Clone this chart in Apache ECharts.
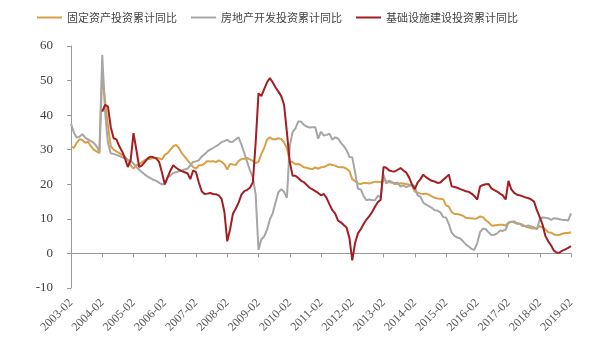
<!DOCTYPE html>
<html>
<head>
<meta charset="utf-8">
<script src="https://cdn.jsdelivr.net/npm/echarts@6/dist/echarts.min.js"></script>
<style>
  html, body { margin: 0; padding: 0; background: #ffffff; }
  #chart { width: 600px; height: 348px; }
</style>
</head>
<body>
<div id="chart"></div>
<script>
// Monthly cumulative YoY growth (%), Feb–Dec of each year (Jan folded into Feb)
const years = [2003, 2004, 2005, 2006, 2007, 2008, 2009, 2010, 2011, 2012, 2013, 2014, 2015, 2016, 2017, 2018, 2019];
const months = ['02', '03', '04', '05', '06', '07', '08', '09', '10', '11', '12'];
const lastMonth = '2019-02';

const seriesNames = ['固定资产投资累计同比', '房地产开发投资累计同比', '基础设施建设投资累计同比'];

// 固定资产投资累计同比
const fixedAsset = [
  31, 30.5, 32, 33, 32.8, 32, 32.3, 31, 30, 29.5, 29,          // 2003
  52, 44, 37, 31, 30, 29.5, 29, 28.5, 28, 27, 25.5,             // 2004
  24.5, 25.5, 25.8, 26.4, 27, 27.2, 27.4, 27.6, 27.6, 27.5, 27.2, // 2005
  28.5, 29, 30, 31, 31.4, 30.5, 29, 28, 27, 26, 25,             // 2006
  24.5, 25.5, 25.5, 26, 26.7, 26.6, 26.7, 26.4, 26.9, 26.5, 25.8, // 2007
  24.3, 25.9, 25.7, 25.6, 26.8, 27.3, 27.4, 27.6, 27.2, 26.8, 26.1, // 2008
  26.5, 28.8, 30.5, 32.9, 33.6, 33, 33, 33.3, 33.1, 32.1, 30.5, // 2009
  26.6, 26.4, 25.8, 25.9, 25.5, 24.9, 24.8, 24.5, 24.4, 24.9, 24.5, // 2010
  24.9, 25, 25.4, 25.8, 25.6, 25.4, 25, 24.9, 24.9, 24.5, 23.8, // 2011
  21.5, 20.9, 20.2, 20.1, 20.4, 20.4, 20.2, 20.5, 20.7, 20.7, 20.6, // 2012
  21.2, 20.9, 20.6, 20.4, 20.1, 20.1, 20.3, 20.2, 20.1, 19.9, 19.6, // 2013
  17.9, 17.6, 17.3, 17.2, 17.3, 17, 16.5, 16.1, 15.9, 15.8, 15.7, // 2014
  13.9, 13.5, 12, 11.4, 11.4, 11.2, 10.9, 10.3, 10.2, 10.2, 10, // 2015
  10.2, 10.7, 10.5, 9.6, 9, 8.1, 8.1, 8.2, 8.3, 8.3, 8.1,       // 2016
  8.9, 9.2, 8.9, 8.6, 8.6, 8.3, 7.8, 7.5, 7.3, 7.2, 7.2,        // 2017
  7.9, 7.5, 7, 6.1, 6, 5.5, 5.3, 5.4, 5.7, 5.9, 5.9,            // 2018
  6.1                                                            // 2019
];

// 房地产开发投资累计同比
const realEstate = [
  37.5, 35, 33.5, 33.8, 34.5, 33.5, 33, 32.5, 32, 31, 29.5,     // 2003
  57.4, 41, 32, 29, 28.8, 28.5, 28.2, 27.8, 27.5, 27, 26.8,     // 2004
  26, 25, 24.2, 23.5, 22.8, 22.2, 21.8, 21.3, 21, 20.5, 20,     // 2005
  20, 22, 22.5, 23.3, 23.5, 23.8, 24, 24.3, 24.5, 25.5, 26.5,   // 2006
  26.6, 27, 28, 28.7, 29.5, 30, 30.5, 31, 31.5, 32.2, 32.5,     // 2007
  32.9, 32.2, 32.3, 33, 33.6, 31.5, 29, 26.5, 24, 22, 17,       // 2008
  1, 4.1, 4.9, 6.8, 9.9, 11.6, 14.7, 17.7, 18.6, 17.8, 16.1,    // 2009
  31.1, 35.1, 36.2, 38.2, 38.1, 37.2, 36.7, 36.4, 36.5, 36.5, 33.2, // 2010
  35.2, 34.1, 34.3, 34.6, 32.9, 33.6, 33.2, 32, 31.1, 29.9, 27.9, // 2011
  27.8, 23.5, 18.7, 18.5, 16.6, 15.4, 15.6, 15.4, 15.4, 16.7, 16.2, // 2012
  22.8, 20.2, 21.1, 20.6, 20.3, 20.5, 19.3, 19.7, 19.2, 19.5, 19.8, // 2013
  19.3, 16.8, 16.4, 14.7, 14.1, 13.7, 13.2, 12.5, 12.4, 11.9, 10.5, // 2014
  10.4, 8.5, 6, 5.1, 4.6, 4.3, 3.5, 2.6, 2, 1.3, 1,             // 2015
  3, 6.2, 7.2, 7, 6.1, 5.3, 5.4, 5.8, 6.6, 6.5, 6.9,            // 2016
  8.9, 9.1, 9.3, 8.8, 8.5, 7.9, 7.9, 8.1, 7.8, 7.5, 7,          // 2017
  9.9, 10.4, 10.3, 10.2, 9.7, 10.2, 10.1, 9.9, 9.7, 9.7, 9.5,   // 2018
  11.6                                                           // 2019
];

// 基础设施建设投资累计同比 (series begins in 2004)
const infrastructure = [
  null, null, null, null, null, null, null, null, null, null, null, // 2003
  41, 43, 42.5, 36.5, 33.3, 33, 31, 29.5, 27.5, 25, 27,         // 2004
  34.8, 30, 25, 25.5, 26.5, 27.5, 28, 27.8, 27.5, 26.5, 23.5,   // 2005
  20, 22, 24, 25.5, 24.8, 24.2, 23.8, 23.5, 23.2, 21.5, 24,     // 2006
  23.5, 20.5, 18, 17.2, 17.3, 17.5, 17.2, 17.1, 16.8, 15.8, 12, // 2007
  3.5, 7, 11.5, 13, 14.7, 17, 18, 18.4, 19, 20.5, 32,           // 2008
  46.3, 45.5, 47.5, 49.5, 50.7, 49.5, 48, 46.8, 45.5, 43, 35,   // 2009
  26.5, 22.5, 22.5, 21.8, 21, 20.6, 19.8, 19, 18.5, 18, 17.5,   // 2010
  16.8, 17.2, 16, 14.2, 12.5, 11.5, 9.5, 9, 8.2, 7.5, 4.5,      // 2011
  -2, 3, 5.8, 7, 8.5, 9.8, 10.8, 12, 13.5, 14.8, 15.5,          // 2012
  25, 24.8, 24, 23.8, 23.7, 24.2, 24.7, 24, 23.4, 22, 20,       // 2013
  18.6, 20.5, 21.5, 22.8, 22, 21.5, 21, 20.8, 20.4, 20.5, 21.3, // 2014
  22, 22.8, 19.4, 19.2, 19, 18.6, 18.3, 18, 17.8, 17.3, 16.6,   // 2015
  15.6, 19.4, 19.8, 20, 20.1, 18.8, 18.3, 17.9, 17.3, 16.8, 15.6, // 2016
  21, 18.5, 17.5, 17, 16.8, 16.5, 16.2, 16, 15.6, 15, 12.5,     // 2017
  10.5, 8.3, 5, 3.5, 2.3, 0.8, 0.2, 0.3, 0.8, 1.2, 1.6,         // 2018
  2.1                                                            // 2019
];

const colors = ['#D9A046', '#A6A6A6', '#A31E22'];

// category labels: YYYY-MM for every month from Feb to Dec, ending at 2019-02
const categories = [];
years.forEach(y => {
  months.forEach(m => {
    const c = y + '-' + m;
    if (c <= lastMonth) categories.push(c);
  });
});

const isYearStart = (idx, val) => String(val).endsWith('-02');

const chart = echarts.init(document.getElementById('chart'), null, { renderer: 'canvas' });

const option = {
  animation: false,
  backgroundColor: '#ffffff',
  color: colors,
  legend: {
    left: 32,
    top: 7,
    icon: 'rect',
    itemWidth: 25,
    itemHeight: 2,
    itemGap: 14,
    textStyle: { fontSize: 11, color: '#454545', fontFamily: 'Noto Sans CJK SC' },
    data: seriesNames
  },
  grid: { left: 71, right: 29, top: 46, bottom: 60, containLabel: false },
  xAxis: [
    {
      // axis line drawn through zero with yearly ticks
      type: 'category',
      data: categories,
      boundaryGap: false,
      position: 'bottom',
      axisLine: { onZero: true, lineStyle: { color: '#999999', width: 1 } },
      axisTick: { show: true, length: 4, interval: isYearStart, lineStyle: { color: '#999999' } },
      axisLabel: { show: false },
      splitLine: { show: false }
    },
    {
      // yearly labels under the plot area
      type: 'category',
      data: categories,
      boundaryGap: false,
      position: 'bottom',
      axisLine: { show: false, onZero: false },
      axisTick: { show: false },
      axisLabel: {
        interval: isYearStart,
        rotate: 45,
        margin: 13,
        fontSize: 12,
        color: '#595959',
        fontFamily: 'Liberation Serif'
      },
      splitLine: { show: false }
    }
  ],
  yAxis: {
    type: 'value',
    min: -10,
    max: 60,
    interval: 10,
    axisLine: { show: true, lineStyle: { color: '#999999', width: 1 } },
    axisTick: { show: true, length: 4, lineStyle: { color: '#999999' } },
    axisLabel: { fontSize: 13, color: '#404040', fontFamily: 'Liberation Serif', margin: 18 },
    splitLine: { show: false }
  },
  series: [
    { name: seriesNames[0], type: 'line', data: fixedAsset, symbol: 'none', lineStyle: { width: 2, color: colors[0] }, xAxisIndex: 0 },
    { name: seriesNames[1], type: 'line', data: realEstate, symbol: 'none', lineStyle: { width: 2, color: colors[1] }, xAxisIndex: 0 },
    { name: seriesNames[2], type: 'line', data: infrastructure, symbol: 'none', lineStyle: { width: 2, color: colors[2] }, xAxisIndex: 0 }
  ]
};

chart.setOption(option);
</script>
</body>
</html>
